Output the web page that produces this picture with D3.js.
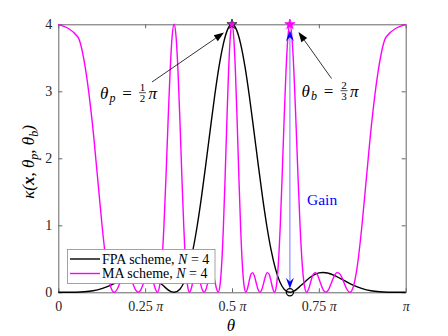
<!DOCTYPE html>
<html>
<head>
<meta charset="utf-8">
<script src="https://cdnjs.cloudflare.com/ajax/libs/d3/7.8.5/d3.min.js"></script>
<style>
    body { margin: 0; background: #fff; }
    svg text { font-family: "Liberation Serif", "Times New Roman", serif; }
</style>
</head>
<body>
<svg id="chart" width="448" height="336"></svg>
<script>
// theta in units of pi, kappa
const thetaFPA = [0, 0.025, 0.05, 0.075, 0.1, 0.125, 0.15, 0.175, 0.2, 0.225, 0.2375, 0.25, 0.275, 0.3, 0.325, 0.3333, 0.35, 0.375, 0.3875, 0.4, 0.4125, 0.425, 0.4375, 0.45, 0.4625, 0.475, 0.4875, 0.5,
    0.5125, 0.525, 0.5375, 0.55, 0.5625, 0.575, 0.5875, 0.6, 0.6125, 0.625, 0.65, 0.6667, 0.675, 0.7, 0.725, 0.75, 0.7625, 0.775, 0.8, 0.825, 0.85, 0.875, 0.9, 0.925, 0.95, 0.975, 1];
const kappaFPA = [0, 0.0001, 0.0015, 0.0075, 0.023, 0.054, 0.103, 0.169, 0.238, 0.288, 0.296, 0.289, 0.224, 0.108, 0.009, 0, 0.047, 0.353, 0.633, 0.997, 1.435, 1.924, 2.433, 2.926, 3.363, 3.705, 3.924, 4,
    3.924, 3.705, 3.363, 2.926, 2.433, 1.924, 1.435, 0.997, 0.633, 0.353, 0.047, 0, 0.009, 0.108, 0.224, 0.289, 0.296, 0.288, 0.238, 0.169, 0.103, 0.054, 0.023, 0.0075, 0.0015, 0.0001, 0];

const thetaMA = [0, 0.05634, 0.07979, 0.09785, 0.11313, 0.12666, 0.13893, 0.15027, 0.16086, 0.17086, 0.18034, 0.18941, 0.19810, 0.20649, 0.21458, 0.22243,
    0.23005, 0.23747, 0.24471, 0.25179, 0.25871, 0.26549, 0.27214, 0.27868, 0.28510, 0.29142, 0.29765, 0.30379, 0.30984, 0.31582, 0.32172, 0.32756,
    0.33333, 0.33905, 0.34470, 0.35031, 0.35586, 0.36137, 0.36684, 0.37226, 0.37764, 0.38299, 0.38830, 0.39358, 0.39884, 0.40405, 0.40925, 0.41442,
    0.41957, 0.42470, 0.42980, 0.43489, 0.43996, 0.44502, 0.45006, 0.45509, 0.46011, 0.46512, 0.47012, 0.47511, 0.48009, 0.48507, 0.49005, 0.49503,
    0.5, 0.50497, 0.50995, 0.51493, 0.51991, 0.52489, 0.52988, 0.53488, 0.53989, 0.54491, 0.54994, 0.55498, 0.56004, 0.56511, 0.57020, 0.57530,
    0.58043, 0.58558, 0.59075, 0.59595, 0.60116, 0.60642, 0.61170, 0.61701, 0.62236, 0.62774, 0.63316, 0.63863, 0.64414, 0.64969, 0.65530, 0.66095,
    0.66667, 0.67244, 0.67828, 0.68418, 0.69016, 0.69621, 0.70235, 0.70858, 0.71490, 0.72132, 0.72786, 0.73451, 0.74129, 0.74821, 0.75529, 0.76253,
    0.76995, 0.77757, 0.78542, 0.79351, 0.80190, 0.81059, 0.81966, 0.82914, 0.83914, 0.84973, 0.86107, 0.87334, 0.88687, 0.90215, 0.92021, 0.94366, 1];
const kappaMA = [
    4, 3.811, 3.284, 2.532, 1.707, 0.960, 0.405, 0.091, 0, 0.061, 0.181, 0.274, 0.293, 0.233, 0.130, 0.037,
    0, 0.037, 0.130, 0.233, 0.293, 0.274, 0.181, 0.061, 0, 0.091, 0.405, 0.960, 1.707, 2.532, 3.284, 3.811,
    4, 3.811, 3.284, 2.532, 1.707, 0.960, 0.405, 0.091, 0, 0.061, 0.181, 0.274, 0.293, 0.233, 0.130, 0.037,
    0, 0.037, 0.130, 0.233, 0.293, 0.274, 0.181, 0.061, 0, 0.091, 0.405, 0.960, 1.707, 2.532, 3.284, 3.811,
    4, 3.811, 3.284, 2.532, 1.707, 0.960, 0.405, 0.091, 0, 0.061, 0.181, 0.274, 0.293, 0.233, 0.130, 0.037,
    0, 0.037, 0.130, 0.233, 0.293, 0.274, 0.181, 0.061, 0, 0.091, 0.405, 0.960, 1.707, 2.532, 3.284, 3.811,
    4, 3.811, 3.284, 2.532, 1.707, 0.960, 0.405, 0.091, 0, 0.061, 0.181, 0.274, 0.293, 0.233, 0.130, 0.037,
    0, 0.037, 0.130, 0.233, 0.293, 0.274, 0.181, 0.061, 0, 0.091, 0.405, 0.960, 1.707, 2.532, 3.284, 3.811,
    4];

const xTicks = [0, 0.25, 0.5, 0.75, 1];
const xTickNums = ["0", "0.25", "0.5", "0.75", ""];
const yTicks = [0, 1, 2, 3, 4];
const thetaP = 0.5, thetaB = 2 / 3;
const gainFrom = 0, gainTo = 4;
const seriesNames = ["FPA scheme, ", "MA scheme, "];
const seriesColors = ["#000000", "#ff00ff"];
const N = 4;

const SVG = d3.select("#chart");
const LEFT = 58.3, RIGHT = 405.7, TOP = 24.3, BOTTOM = 292.3;
const AXIS_COLOR = "#666";
const SERIF = "Liberation Serif, Times New Roman, serif";

const x = d3.scaleLinear().domain([0, 1]).range([LEFT, RIGHT]);
const y = d3.scaleLinear().domain([0, 4]).range([BOTTOM, TOP]);

// box + ticks
SVG.append("g")
    .attr("transform", `translate(0,${BOTTOM})`)
    .call(d3.axisBottom(x).tickValues(xTicks).tickSizeInner(-4).tickSizeOuter(0).tickPadding(9).tickFormat(""))
    .call(g => g.selectAll(".tick text").each(function (d, i) {
        const t = d3.select(this);
        t.text(xTickNums[i] + (i > 0 && i < 4 ? " " : ""));
        if (i > 0) t.append("tspan").attr("font-style", "italic").text("π");
    }));
SVG.append("g")
    .attr("transform", `translate(0,${TOP})`)
    .call(d3.axisTop(x).tickValues(xTicks).tickSizeInner(-4).tickSizeOuter(0).tickFormat(""));
SVG.append("g")
    .attr("transform", `translate(${LEFT},0)`)
    .call(d3.axisLeft(y).tickValues(yTicks).tickSizeInner(-4).tickSizeOuter(0).tickPadding(6).tickFormat(d3.format("d")));
SVG.append("g")
    .attr("transform", `translate(${RIGHT},0)`)
    .call(d3.axisRight(y).tickValues(yTicks).tickSizeInner(-4).tickSizeOuter(0).tickFormat(""));

SVG.selectAll(".domain, .tick line").attr("stroke", AXIS_COLOR);
SVG.selectAll(".tick text")
    .attr("fill", "#262626")
    .attr("font-size", 14)
    .attr("font-family", SERIF);

// curves
const line = d3.line()
    .x(d => x(d[0]))
    .y(d => y(d[1]))
    .curve(d3.curveMonotoneX);

SVG.append("path")
    .datum(thetaFPA.map((t, i) => [t, kappaFPA[i]]))
    .attr("d", line)
    .attr("fill", "none")
    .attr("stroke", seriesColors[0])
    .attr("stroke-width", 1.4);

SVG.append("path")
    .datum(thetaMA.map((t, i) => [t, kappaMA[i]]))
    .attr("d", line)
    .attr("fill", "none")
    .attr("stroke", seriesColors[1])
    .attr("stroke-width", 1.4);

// gain arrow
const gx = x(thetaB);
SVG.append("line")
    .attr("x1", gx).attr("x2", gx)
    .attr("y1", y(gainTo) + 10).attr("y2", y(gainFrom) - 6)
    .attr("stroke", "#8c8cff")
    .attr("stroke-width", 1.2);

function notchedHead(tipX, tipY, dir) {
    // dir: -1 pointing up, 1 pointing down
    const L = 11, W = 4, notch = 4;
    return `M${tipX},${tipY} L${tipX - W},${tipY - dir * L} L${tipX},${tipY - dir * (L - notch)} L${tipX + W},${tipY - dir * L} Z`;
}
SVG.append("path").attr("d", notchedHead(gx, y(gainTo) + 6, -1)).attr("fill", "#0000ff");
SVG.append("path").attr("d", notchedHead(gx, y(gainFrom) - 3.5, 1)).attr("fill", "#0000ff");

SVG.append("text")
    .attr("x", 307)
    .attr("y", 205)
    .attr("font-size", 15.5)
    .attr("font-family", SERIF)
    .attr("fill", "#0000ff")
    .text("Gain");

// markers
const star = d3.symbol().type(d3.symbolStar).size(32);
SVG.append("path")
    .attr("d", star)
    .attr("transform", `translate(${x(thetaP)},${y(4)})`)
    .attr("fill", "#ff00ff")
    .attr("stroke", "#222")
    .attr("stroke-width", 0.8);
SVG.append("path")
    .attr("d", star)
    .attr("transform", `translate(${x(thetaB)},${y(4)})`)
    .attr("fill", "#ff00ff")
    .attr("stroke", "#ff00ff")
    .attr("stroke-width", 0.8);
SVG.append("circle")
    .attr("cx", x(thetaB))
    .attr("cy", y(0))
    .attr("r", 3.6)
    .attr("fill", "none")
    .attr("stroke", "#000")
    .attr("stroke-width", 1.2);

// annotation arrows
function annotArrow(x1, y1, x2, y2) {
    const a = Math.atan2(y2 - y1, x2 - x1);
    const L = 10, W = 3.6;
    const bx = x2 - L * Math.cos(a), by = y2 - L * Math.sin(a);
    SVG.append("line")
        .attr("x1", x1).attr("y1", y1).attr("x2", bx).attr("y2", by)
        .attr("stroke", "#000").attr("stroke-width", 0.8);
    SVG.append("path")
        .attr("d", `M${x2},${y2} L${bx - W * Math.sin(a)},${by + W * Math.cos(a)} L${bx + W * Math.sin(a)},${by - W * Math.cos(a)} Z`)
        .attr("fill", "#000");
}
annotArrow(152, 82, 224, 32.5);
annotArrow(331.5, 78.5, 298.5, 32);

function annotLabel(x0, base, sub, num, den) {
    const g = SVG.append("g").attr("fill", "#000").attr("font-family", SERIF);
    g.append("text").attr("x", x0).attr("y", base).attr("font-size", 17).attr("font-style", "italic").text("θ");
    g.append("text").attr("x", x0 + 9.5).attr("y", base + 3.5).attr("font-size", 12).attr("font-style", "italic").text(sub);
    g.append("text").attr("x", x0 + 27).attr("y", base).attr("font-size", 17).attr("text-anchor", "middle").text("=");
    const fx = x0 + 42.5;
    g.append("text").attr("x", fx).attr("y", base - 8).attr("font-size", 11).attr("text-anchor", "middle").text(num);
    g.append("line").attr("x1", fx - 3.5).attr("x2", fx + 3.5).attr("y1", base - 5.8).attr("y2", base - 5.8)
        .attr("stroke", "#000").attr("stroke-width", 0.7);
    g.append("text").attr("x", fx).attr("y", base + 3.2).attr("font-size", 11).attr("text-anchor", "middle").text(den);
    g.append("text").attr("x", x0 + 48.5).attr("y", base).attr("font-size", 17).attr("font-style", "italic").text("π");
}
annotLabel(100, 98.5, "p", "1", "2");
annotLabel(301.5, 96.5, "b", "2", "3");

// axis labels
SVG.append("text")
    .attr("x", 231)
    .attr("y", 331)
    .attr("text-anchor", "middle")
    .attr("font-size", 17)
    .attr("font-family", SERIF)
    .attr("font-style", "italic")
    .text("θ");

const yl = SVG.append("text")
    .attr("transform", "translate(33.5,162) rotate(-90)")
    .attr("text-anchor", "middle")
    .attr("font-size", 17)
    .attr("font-family", SERIF)
    .attr("font-style", "italic");
yl.append("tspan").text("κ(");
yl.append("tspan").attr("font-weight", "bold").text("x");
yl.append("tspan").text(", θ");
yl.append("tspan").attr("font-size", 12).attr("dy", 4).text("p");
yl.append("tspan").attr("dy", -4).text(", θ");
yl.append("tspan").attr("font-size", 12).attr("dy", 4).text("b");
yl.append("tspan").attr("dy", -4).text(")");

// legend
const LEG = SVG.append("g").attr("font-family", SERIF);
LEG.append("rect")
    .attr("x", 67.5).attr("y", 249.5)
    .attr("width", 147.5).attr("height", 34)
    .attr("fill", "#fff")
    .attr("stroke", "#8c8c8c")
    .attr("stroke-width", 0.8);
seriesNames.forEach((name, i) => {
    const cy = 259 + i * 14.5;
    LEG.append("line")
        .attr("x1", 70).attr("x2", 100)
        .attr("y1", cy).attr("y2", cy)
        .attr("stroke", seriesColors[i])
        .attr("stroke-width", 1.4);
    const t = LEG.append("text")
        .attr("x", 102)
        .attr("y", cy + 4.8)
        .attr("font-size", 14)
        .attr("fill", "#000");
    t.append("tspan").text(name);
    t.append("tspan").attr("font-style", "italic").text("N");
    t.append("tspan").text(" = " + N);
});
</script>
</body>
</html>
